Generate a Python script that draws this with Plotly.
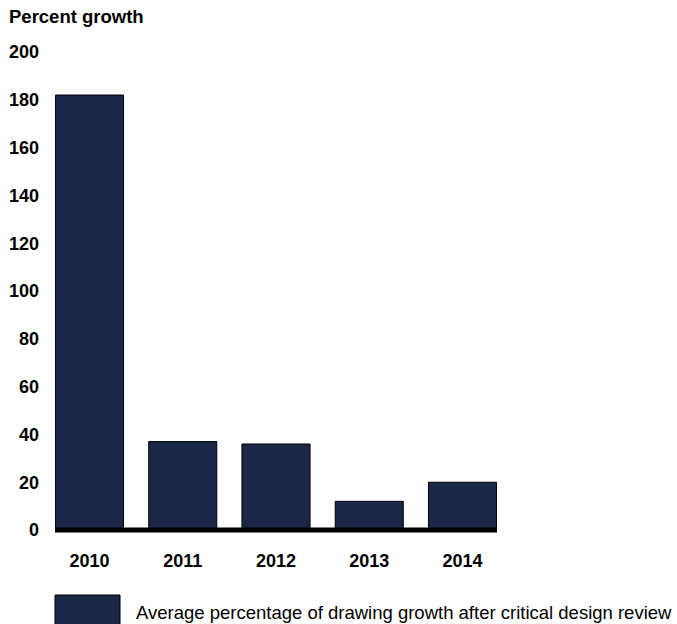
import plotly.graph_objects as go

# Data
years = ["2010", "2011", "2012", "2013", "2014"]
growth_pct = [182, 37, 36, 12, 20]
series_name = "Average percentage of drawing growth after critical design review"
y_ticks = [0, 20, 40, 60, 80, 100, 120, 140, 160, 180, 200]

BAR_COLOR = "#1a2747"
FONT = "Liberation Sans, Arial, sans-serif"

W, H = 677, 624
L, R, T, B = 55, 180, 52, 88
plot_w = W - L - R
plot_h = H - T - B


def px_x(px):
    return (px - L) / plot_w


def px_y(py):
    return (H - B - py) / plot_h


fig = go.Figure(
    go.Bar(
        x=years,
        y=growth_pct,
        name=series_name,
        marker=dict(color=BAR_COLOR, line=dict(color="#000000", width=1)),
        showlegend=False,
    )
)

# Heavy baseline at zero
fig.add_shape(
    type="line", xref="paper", yref="y",
    x0=0, x1=1, y0=0, y1=0,
    line=dict(color="#000000", width=5), layer="above",
)

# Legend swatch and label
fig.add_shape(
    type="rect", xref="paper", yref="paper",
    x0=px_x(55), x1=px_x(120), y0=px_y(595), y1=px_y(626),
    fillcolor=BAR_COLOR, line=dict(color="#000000", width=1),
)
fig.add_annotation(
    xref="paper", yref="paper", x=px_x(134), y=px_y(612),
    xanchor="left", yanchor="middle", text=series_name, showarrow=False,
    font=dict(family=FONT, size=18.5, color="#000000"),
)

fig.update_layout(
    width=W, height=H, autosize=False,
    margin=dict(l=L, r=R, t=T, b=B, pad=0),
    paper_bgcolor="white", plot_bgcolor="white",
    bargap=0.27,
    title=dict(
        text="<b>Percent growth</b>", x=9 / W, xref="container", xanchor="left",
        y=1 - 10 / H, yref="container", yanchor="top",
        font=dict(family=FONT, size=18.5, color="#000000"),
    ),
    font=dict(family=FONT, size=18, color="#000000"),
)

fig.update_xaxes(
    range=[-0.37, 4.37], showgrid=False, showline=False, zeroline=False,
    ticks="", tickfont=dict(family=FONT, size=18, color="#000000", weight="bold"),
    ticklabelstandoff=12, automargin=False,
)
fig.update_yaxes(
    range=[-2.5, 200], tickvals=y_ticks, ticktext=[str(v) for v in y_ticks],
    showgrid=False, showline=False, zeroline=False, ticks="",
    tickfont=dict(family=FONT, size=18, color="#000000", weight="bold"),
    ticklabelstandoff=15, automargin=False,
)

fig.write_html("out.html")
